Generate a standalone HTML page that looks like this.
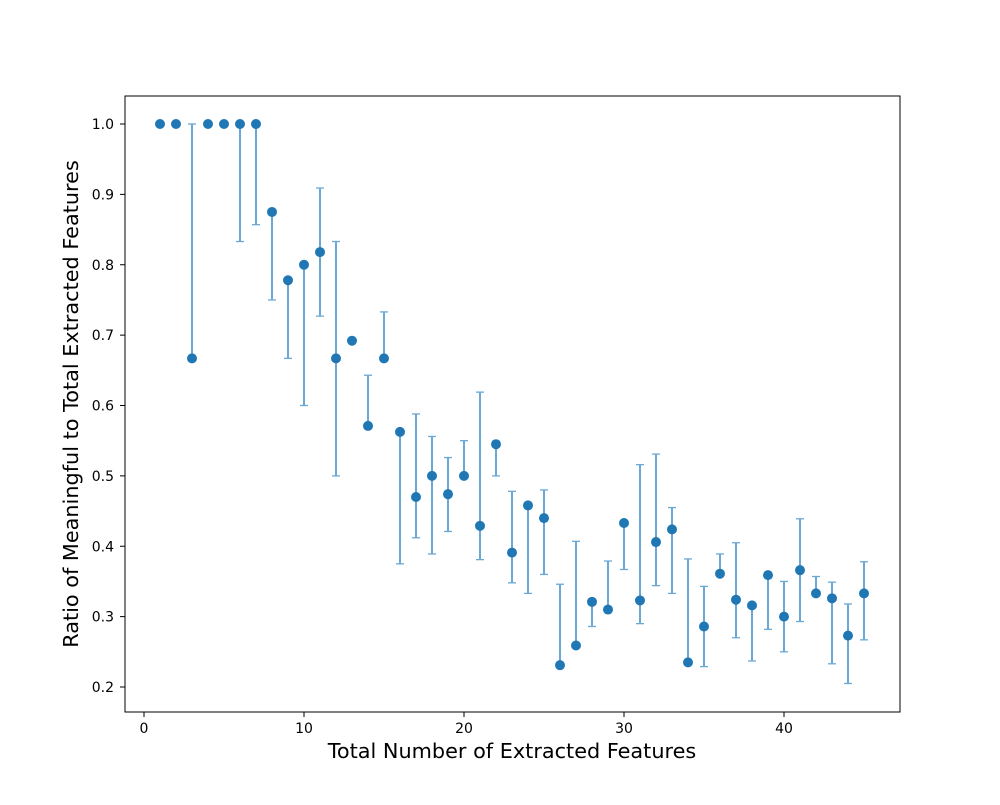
<!DOCTYPE html>
<html><head><meta charset="utf-8"><style>
body{margin:0;background:#fff}
text{font-family:"DejaVu Sans","Liberation Sans",sans-serif;fill:#000}
</style></head><body>
<svg id="chart" width="1000" height="800" xmlns="http://www.w3.org/2000/svg">
<rect x="125" y="96" width="775" height="616" fill="none" stroke="#000" stroke-width="1"/>
<g id="ticks"></g><g id="marks"></g>
<text x="512" y="758" text-anchor="middle" font-size="20.8">Total Number of Extracted Features</text>
<text transform="translate(78,404) rotate(-90)" text-anchor="middle" font-size="20.8">Ratio of Meaningful to Total Extracted Features</text>
</svg>
<script>
const xs=[1,2,3,4,5,6,7,8,9,10,11,12,13,14,15,16,17,18,19,20,21,22,23,24,25,26,27,28,29,30,31,32,33,34,35,36,37,38,39,40,41,42,43,44,45];
const vals=[1,1,0.667,1,1,1,1,0.875,0.778,0.8,0.818,0.667,0.692,0.571,0.667,0.5625,0.47,0.5,0.474,0.5,0.429,0.545,0.391,0.458,0.44,0.231,0.259,0.321,0.31,0.433,0.323,0.406,0.424,0.235,0.286,0.361,0.324,0.316,0.359,0.3,0.366,0.333,0.326,0.273,0.333];
const lows=[1,1,0.667,1,1,0.833,0.857,0.75,0.667,0.6,0.727,0.5,0.692,0.571,0.667,0.375,0.412,0.389,0.421,0.5,0.381,0.5,0.348,0.333,0.36,0.231,0.259,0.286,0.31,0.367,0.29,0.344,0.333,0.235,0.229,0.361,0.27,0.237,0.282,0.25,0.293,0.333,0.233,0.205,0.267];
const highs=[1,1,1,1,1,1,1,0.875,0.778,0.8,0.909,0.833,0.692,0.643,0.733,0.5625,0.588,0.556,0.526,0.55,0.619,0.545,0.478,0.458,0.48,0.346,0.407,0.321,0.379,0.433,0.516,0.531,0.455,0.382,0.343,0.389,0.405,0.316,0.359,0.35,0.439,0.357,0.349,0.318,0.378];
const xTicks=[0,10,20,30,40];
const yTicks=[0.2,0.3,0.4,0.5,0.6,0.7,0.8,0.9,1.0];
const X=v=>144+v*16, Y=v=>124+(1-v)*703.75;
const NS="http://www.w3.org/2000/svg";
function mk(p,t,a){const e=document.createElementNS(NS,t);for(const k in a)e.setAttribute(k,a[k]);p.appendChild(e);return e;}
const tk=document.getElementById('ticks'), mg=document.getElementById('marks');
xTicks.forEach(t=>{
 const l=mk(tk,'line',{x1:X(t),x2:X(t),y1:712,y2:717,stroke:'#000'});
 
 
 const s=mk(tk,'text',{x:X(t),y:733,'text-anchor':'middle','font-size':'14'});s.textContent=t;
 
 
});
yTicks.forEach(t=>{
 const l=mk(tk,'line',{x1:120,x2:125,y1:Y(t),y2:Y(t),stroke:'#000'});
 
 
 const s=mk(tk,'text',{x:114,y:Y(t)+5,'text-anchor':'end','font-size':'14'});s.textContent=t.toFixed(1);
 
 
});
xs.forEach((x,i)=>{
 const cx=X(x);
 if(highs[i]-lows[i]>0.001){
  const g=mk(mg,'g',{stroke:'#6aa8d6','stroke-width':'2'});
  
  
  mk(g,'line',{x1:cx,x2:cx,y1:Y(lows[i]),y2:Y(highs[i])});
  mk(g,'line',{x1:cx-4,x2:cx+4,y1:Y(lows[i]),y2:Y(lows[i]),'stroke-width':'1.3'});
  mk(g,'line',{x1:cx-4,x2:cx+4,y1:Y(highs[i]),y2:Y(highs[i]),'stroke-width':'1.3'});
 }
 const c=mk(mg,'circle',{cx:cx,cy:Y(vals[i]),r:5,fill:'#1f77b4'});
 
 
});
</script>
</body></html>
